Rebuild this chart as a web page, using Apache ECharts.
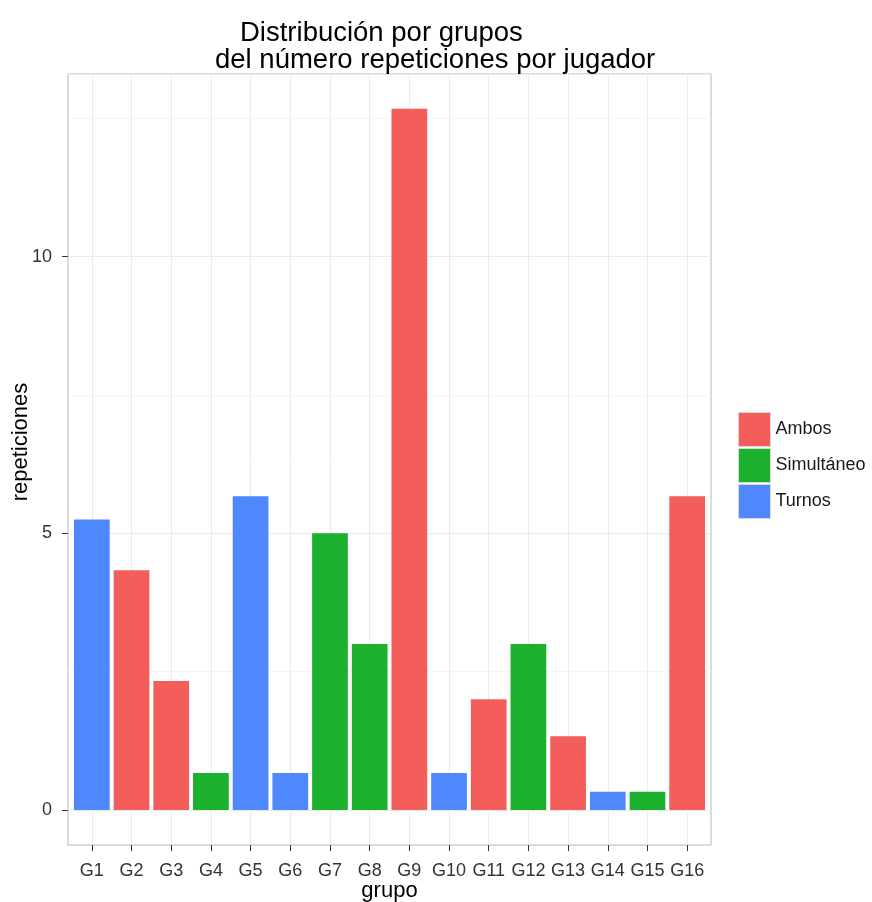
<!DOCTYPE html>
<html>
<head>
<meta charset="utf-8">
<script src="https://cdn.jsdelivr.net/npm/echarts@6/dist/echarts.min.js"></script>
<style>
html,body{margin:0;padding:0;background:#fff;}
#chart{width:872px;height:902px;}
</style>
</head>
<body>
<div id="chart"></div>
<script>
const categories = ['G1','G2','G3','G4','G5','G6','G7','G8','G9','G10','G11','G12','G13','G14','G15','G16'];
const groupOf = ['Turnos','Ambos','Ambos','Simultáneo','Turnos','Turnos','Simultáneo','Simultáneo','Ambos','Turnos','Ambos','Simultáneo','Ambos','Turnos','Simultáneo','Ambos'];
const repeticiones = [5.25, 4.33, 2.33, 0.67, 5.67, 0.67, 5, 3, 12.67, 0.67, 2, 3, 1.33, 0.33, 0.33, 5.67];
const groups = ['Ambos','Simultáneo','Turnos'];
const colors = ['#f35e5a','#1bb02e','#4f87fd'];
const yTicks = [0, 5, 10];

const FONT = '"Liberation Sans", Arial, Helvetica, sans-serif';
const yMin = -0.633, yMax = 13.3;

const series = groups.map((g, gi) => ({
  name: g,
  type: 'bar',
  stack: 'all',
  xAxisIndex: 1,
  yAxisIndex: 1,
  barWidth: '90%',
  itemStyle: { color: colors[gi] },
  emphasis: { disabled: true },
  data: repeticiones.map((v, i) => groupOf[i] === g ? v : '-')
}));

const chart = echarts.init(document.getElementById('chart'), null, { renderer: 'canvas' });
chart.setOption({
  animation: false,
  backgroundColor: '#ffffff',
  title: [
    { text: 'Distribución por grupos', left: 235, top: 14, padding: 5, textStyle: { fontFamily: FONT, fontSize: 27.5, fontWeight: 'normal', color: '#000' } },
    { text: 'del número repeticiones por jugador', left: 210, top: 41, padding: 5, textStyle: { fontFamily: FONT, fontSize: 27.5, fontWeight: 'normal', color: '#000' } }
  ],
  legend: {
    orient: 'vertical',
    left: 733, top: 407,
    itemWidth: 32, itemHeight: 34, itemGap: 1,
    icon: 'rect',
    data: groups,
    itemStyle: { borderColor: '#d9d9d9', borderWidth: 1 },
    textStyle: { fontFamily: FONT, fontSize: 18, color: '#1a1a1a' }
  },
  grid: [
    { left: 68, right: 161, top: 74, bottom: 92, show: false, outerBoundsMode: 'none', containLabel: false },
    { left: 72, right: 165, top: 74, bottom: 57, show: false, outerBoundsMode: 'none', containLabel: false },
    { left: 68, right: 161, top: 74, bottom: 57, show: true, borderColor: '#cfcfcf', borderWidth: 1.5, backgroundColor: 'transparent', outerBoundsMode: 'none', containLabel: false }
  ],
  xAxis: [
    { gridIndex: 0, type: 'value', show: false },
    {
      gridIndex: 1, type: 'category', data: categories, position: 'bottom',
      name: 'grupo', nameLocation: 'middle', nameGap: 35, nameMoveOverlap: false,
      nameTextStyle: { fontFamily: FONT, fontSize: 22, color: '#000' },
      axisLine: { show: false, onZero: false },
      axisTick: { show: true, alignWithLabel: true, length: 6, lineStyle: { color: '#333' } },
      axisLabel: { fontFamily: FONT, fontSize: 18, color: '#333', margin: 17, interval: 0 },
      splitLine: { show: true, alignWithLabel: true, lineStyle: { color: '#ebebeb', width: 1 } }
    },
    { gridIndex: 2, type: 'value', show: false }
  ],
  yAxis: [
    {
      gridIndex: 0, type: 'value', min: 0, max: yMax, interval: 5,
      name: 'repeticiones', nameLocation: 'middle', nameGap: 36, nameMoveOverlap: false,
      nameTextStyle: { fontFamily: FONT, fontSize: 22, color: '#000' },
      axisLine: { show: false },
      axisTick: { show: true, length: 6, lineStyle: { color: '#333' } },
      axisLabel: { fontFamily: FONT, fontSize: 18, color: '#333', margin: 16, showMaxLabel: false,
        formatter: v => yTicks.indexOf(v) >= 0 ? String(v) : '' },
      splitLine: { show: true, lineStyle: { color: '#ebebeb', width: 1 } },
      minorTick: { show: false, splitNumber: 2 },
      minorSplitLine: { show: true, lineStyle: { color: '#f5f5f5', width: 1 } }
    },
    { gridIndex: 1, type: 'value', min: yMin, max: yMax, show: false, splitLine: { show: false } },
    { gridIndex: 2, type: 'value', show: false }
  ],
  series: series
});
</script>
</body>
</html>
